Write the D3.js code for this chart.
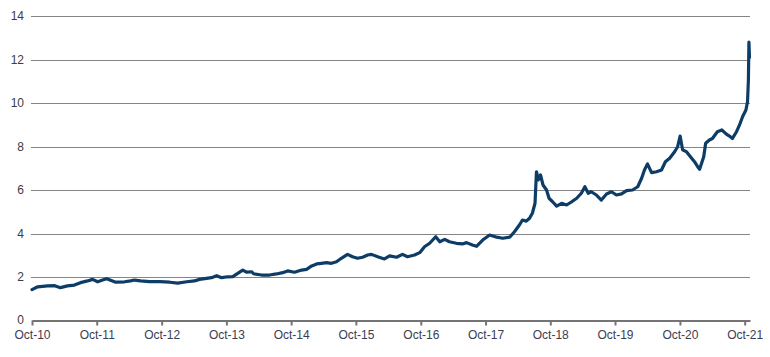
<!DOCTYPE html>
<html>
<head>
<meta charset="utf-8">
<script src="https://cdn.jsdelivr.net/npm/d3@7"></script>
<style>
  html, body { margin: 0; padding: 0; background: #fff; }
  svg { display: block; }
  text { font-family: "Liberation Sans", Arial, Helvetica, sans-serif; }
</style>
</head>
<body>
<div id="chart"></div>
<script>
// ---- data ----
const dates = [
  "2010-10-01","2010-11-02","2010-12-28","2011-02-06","2011-03-10","2011-04-19","2011-05-28","2011-07-01","2011-08-10","2011-09-08",
  "2011-10-06","2011-11-03","2011-11-26","2011-12-18","2012-01-16","2012-03-06","2012-04-09","2012-05-01","2012-06-04","2012-07-25",
  "2012-09-20","2012-11-16","2012-12-30","2013-02-20","2013-04-04","2013-05-02","2013-06-11","2013-07-09","2013-08-07","2013-09-04",
  "2013-10-08","2013-11-06","2013-12-04","2014-01-01","2014-01-24","2014-02-21","2014-03-03","2014-04-17","2014-06-01","2014-07-10",
  "2014-08-14","2014-09-11","2014-10-20","2014-11-29","2014-12-27","2015-01-25","2015-02-22","2015-03-21","2015-04-18","2015-05-16",
  "2015-06-14","2015-07-11","2015-08-15","2015-09-12","2015-10-10","2015-11-08","2015-12-06","2015-12-28","2016-02-01","2016-03-10",
  "2016-04-08","2016-05-17","2016-06-20","2016-07-18","2016-08-27","2016-09-25","2016-10-22","2016-11-20","2016-12-24","2017-01-16",
  "2017-02-13","2017-03-11","2017-04-20","2017-05-24","2017-06-16","2017-07-19","2017-08-11","2017-09-15","2017-10-24","2017-12-03",
  "2018-01-06","2018-02-14","2018-03-13","2018-04-10","2018-04-27","2018-05-19","2018-06-06","2018-06-22","2018-07-07","2018-07-15",
  "2018-07-26","2018-08-07","2018-08-21","2018-09-10","2018-09-24","2018-10-14","2018-11-06","2018-12-04","2019-01-01","2019-01-30",
  "2019-02-27","2019-03-25","2019-04-14","2019-05-03","2019-05-20","2019-06-18","2019-07-16","2019-08-14","2019-09-11","2019-10-09",
  "2019-11-07","2019-12-05","2020-01-08","2020-02-06","2020-02-28","2020-03-15","2020-04-01","2020-04-24","2020-05-22","2020-06-19",
  "2020-07-11","2020-08-04","2020-09-01","2020-09-18","2020-10-02","2020-10-16","2020-11-08","2020-12-06","2020-12-22","2021-01-09",
  "2021-01-20","2021-02-01","2021-02-12","2021-02-23","2021-03-16","2021-04-02","2021-04-30","2021-05-25","2021-06-20","2021-07-07",
  "2021-07-24","2021-08-16","2021-09-02","2021-09-19","2021-10-08","2021-10-17","2021-10-22","2021-10-25","2021-10-28"
];
const values = [
  1.42,1.55,1.59,1.60,1.51,1.59,1.63,1.74,1.82,1.89,
  1.78,1.86,1.92,1.85,1.76,1.78,1.82,1.86,1.82,1.79,
  1.79,1.76,1.72,1.78,1.82,1.89,1.94,1.97,2.06,1.97,
  2.01,2.02,2.17,2.32,2.22,2.24,2.15,2.09,2.09,2.14,
  2.20,2.28,2.22,2.32,2.35,2.51,2.60,2.63,2.66,2.63,
  2.70,2.86,3.04,2.93,2.86,2.91,3.01,3.04,2.93,2.83,
  2.97,2.91,3.04,2.93,3.01,3.12,3.39,3.55,3.85,3.62,
  3.73,3.62,3.55,3.52,3.58,3.47,3.41,3.70,3.93,3.83,
  3.78,3.83,4.08,4.39,4.62,4.57,4.70,4.93,5.39,6.84,
  6.46,6.69,6.23,6.00,5.62,5.46,5.26,5.39,5.31,5.46,
  5.62,5.85,6.15,5.85,5.92,5.77,5.54,5.82,5.92,5.77,
  5.82,5.97,6.00,6.15,6.54,6.92,7.20,6.80,6.84,6.92,
  7.30,7.46,7.76,7.99,8.48,7.85,7.75,7.46,7.30,7.07,
  6.95,7.25,7.53,8.15,8.30,8.37,8.68,8.76,8.57,8.48,
  8.37,8.68,8.99,9.37,9.68,10.06,11.06,12.80,12.10
];
const xTickLabels = ["Oct-10","Oct-11","Oct-12","Oct-13","Oct-14","Oct-15","Oct-16","Oct-17","Oct-18","Oct-19","Oct-20","Oct-21"];
const yTicks = [0, 2, 4, 6, 8, 10, 12, 14];
const xDomain = ["2010-10-01", "2021-10-31"];

// ---- chart ----
const W = 770, H = 357;
const parse = d3.timeParse("%Y-%m-%d");
const data = dates.map((d, i) => ({ date: parse(d), value: values[i] }));

const x = d3.scaleTime().domain(xDomain.map(parse)).range([32, 750]);
const y = d3.scaleLinear().domain([0, 14]).range([320.5, 16]);

const svg = d3.select("#chart").append("svg").attr("width", W).attr("height", H);

// gridlines
svg.append("g")
  .selectAll("line")
  .data(yTicks.filter(t => t > 0))
  .join("line")
  .attr("x1", 31).attr("x2", 750)
  .attr("y1", d => Math.round(y(d)) + 0.5).attr("y2", d => Math.round(y(d)) + 0.5)
  .attr("stroke", "#858585").attr("stroke-width", 1);

// y labels
svg.append("g")
  .selectAll("text")
  .data(yTicks)
  .join("text")
  .attr("x", 24).attr("y", d => y(d) - (d === 0 ? 1 : 0))
  .attr("dy", "0.35em")
  .attr("text-anchor", "end")
  .attr("font-size", 12)
  .attr("fill", "#3c3c46")
  .text(d => d);

// x axis
const tickDates = xTickLabels.map((s, i) => new Date(2010 + i, 9, 1));
const xAxis = d3.axisBottom(x)
  .tickValues(tickDates)
  .tickFormat((d, i) => xTickLabels[i])
  .tickSize(5)
  .tickSizeOuter(0)
  .tickPadding(5);
const gx = svg.append("g").attr("transform", "translate(0,320.5)").call(xAxis);
gx.select(".domain").attr("stroke", "#747474").attr("stroke-width", 2.2);
gx.selectAll(".tick line").attr("stroke", "#747474").attr("stroke-width", 2);
gx.selectAll(".tick text")
  .attr("font-size", 12)
  .attr("font-family", "Liberation Sans, Arial, sans-serif")
  .attr("fill", "#3c3c50");

// line
const line = d3.line().x(d => x(d.date)).y(d => y(d.value)).curve(d3.curveLinear);
svg.append("path")
  .datum(data)
  .attr("fill", "none")
  .attr("stroke", "#0d3d66")
  .attr("stroke-width", 3.2)
  .attr("stroke-linejoin", "round")
  .attr("stroke-linecap", "round")
  .attr("d", line);
</script>
</body>
</html>
